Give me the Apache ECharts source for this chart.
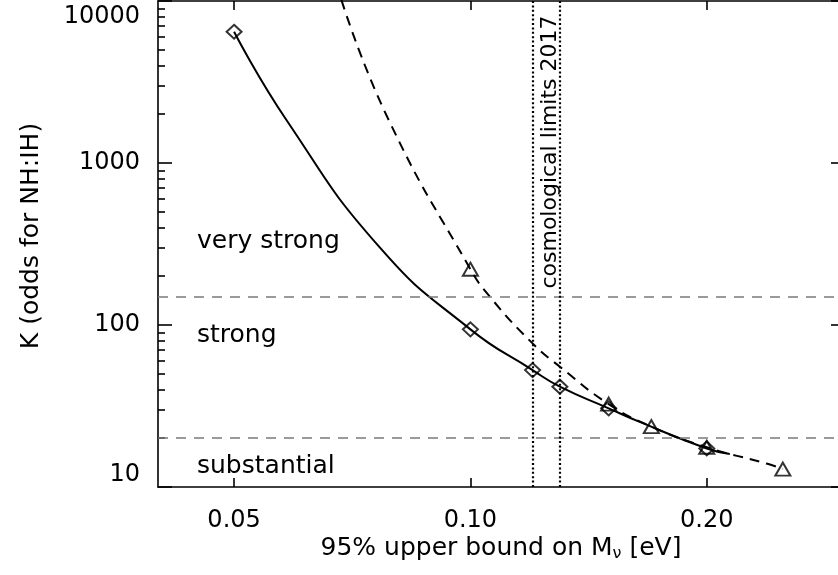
<!DOCTYPE html>
<html><head><meta charset="utf-8">
<script src="https://cdn.jsdelivr.net/npm/echarts@6/dist/echarts.min.js"></script>
<style>html,body{margin:0;padding:0;background:#fff}#c{width:838px;height:575px}</style>
</head><body><div id="c"></div><script>
// ---- data ----
const xTickValues = [0.05, 0.10, 0.20];
const xTickLabels = ['0.05', '0.10', '0.20'];
const yTickValues = [10, 100, 1000, 10000];
const yTickLabels = ['10', '100', '1000', '10000'];
const yMinorValues = [20,30,40,50,60,70,80,90,200,300,400,500,600,700,800,900,2000,3000,4000,5000,6000,7000,8000,9000];

// solid curve
const solidX = [0.05, 0.0583, 0.0767, 0.10, 0.12, 0.13, 0.15, 0.164, 0.20, 0.214];
const solidK = [6460, 1843, 300, 94, 52.7, 41.6, 30.6, 25.3, 17.3, 16.0];
// diamonds
const diamondX = [0.05, 0.10, 0.12, 0.13, 0.15, 0.20];
const diamondK = [6460, 94, 52.7, 41.6, 30.6, 17.3];
// dashed curve
const dashedX = [0.0685, 0.0785, 0.10, 0.1058, 0.12, 0.13, 0.15, 0.17, 0.20, 0.239, 0.25];
const dashedK = [10150, 1888, 221, 150, 77, 55.3, 32.5, 23.6, 17.6, 13.9, 12.9];
// triangles
const triangleX = [0.10, 0.15, 0.17, 0.20, 0.25];
const triangleK = [221, 32.5, 23.6, 17.6, 12.9];

const evidenceThresholds = [150, 20];
const cosmoLimits = [0.12, 0.13];
const regionNames = ['very strong', 'strong', 'substantial'];
const cosmoText = 'cosmological limits 2017';
const xTitle = '95% upper bound on M';
const yTitle = 'K (odds for NH:IH)';

// ---- chart ----
const FONT = '"DejaVu Sans", sans-serif';
const X0 = 0.04, X1 = 0.3, Y0 = 10, Y1 = 10000;
const L = Math.log10;
const pair = (xs, ys) => xs.map((x, i) => [x, ys[i]]);
const black = '#000';
const lblX = v => { const i = xTickValues.findIndex(t => Math.abs(L(t) - v) < 1e-6); return i >= 0 ? xTickLabels[i] : ''; };
const lblY = v => { const i = yTickValues.findIndex(t => Math.abs(L(t) - v) < 1e-6); return i >= 0 ? yTickLabels[i] : ''; };

const chart = echarts.init(document.getElementById('c'), null, {renderer: 'canvas'});
const lineAx = {show: true, onZero: false, lineStyle: {color: black, width: 1.6}};
const noLine = {show: false, onZero: false};

const option = {
  animation: false,
  backgroundColor: '#fff',
  grid: {left: 158, top: 1, width: 687, height: 486, containLabel: false, outerBoundsMode: 'none'},
  xAxis: [
    {type: 'log', min: X0, max: X1, position: 'bottom', axisLine: lineAx, axisTick: {show: false},
     axisLabel: {show: false}, splitLine: {show: false}, minorTick: {show: false}},
    {type: 'value', min: L(X0), max: L(X1), position: 'bottom', axisLine: noLine,
     axisTick: {show: true, inside: true, length: 9, customValues: xTickValues.map(L), lineStyle: {color: black, width: 1.6}},
     axisLabel: {show: true, customValues: xTickValues.map(L), formatter: lblX, margin: 22, fontSize: 24, color: black, fontFamily: FONT},
     splitLine: {show: false}},
    {type: 'value', min: L(X0), max: L(X1), position: 'top', axisLine: lineAx,
     axisTick: {show: true, inside: true, length: 9, customValues: xTickValues.map(L), lineStyle: {color: black, width: 1.6}},
     axisLabel: {show: false}, splitLine: {show: false}}
  ],
  yAxis: [
    {type: 'log', min: Y0, max: Y1, position: 'left', axisLine: lineAx, axisTick: {show: false},
     axisLabel: {show: false}, splitLine: {show: false}, minorTick: {show: false}},
    {type: 'value', min: L(Y0), max: L(Y1), position: 'left', axisLine: noLine,
     axisTick: {show: true, inside: true, length: 14, customValues: yTickValues.map(L), lineStyle: {color: black, width: 1.6}},
     axisLabel: {show: true, customValues: yTickValues.map(L), formatter: lblY, margin: 18, fontSize: 24, color: black, fontFamily: FONT,
                 padding: [4, 0, 0, 0], verticalAlignMinLabel: 'bottom', verticalAlignMaxLabel: 'top'},
     splitLine: {show: false}},
    {type: 'value', min: L(Y0), max: L(Y1), position: 'left', axisLine: noLine,
     axisTick: {show: true, inside: true, length: 7, customValues: yMinorValues.map(L), lineStyle: {color: black, width: 1.6}},
     axisLabel: {show: false}, splitLine: {show: false}},
    {type: 'log', min: Y0, max: Y1, position: 'right', axisLine: lineAx, axisTick: {show: false},
     axisLabel: {show: false}, splitLine: {show: false}},
    {type: 'value', min: L(Y0), max: L(Y1), position: 'right', axisLine: noLine,
     axisTick: {show: true, inside: true, length: 14, customValues: yTickValues.map(L), lineStyle: {color: black, width: 1.6}},
     axisLabel: {show: false}, splitLine: {show: false}},
    {type: 'value', min: L(Y0), max: L(Y1), position: 'right', axisLine: noLine,
     axisTick: {show: true, inside: true, length: 7, customValues: yMinorValues.map(L), lineStyle: {color: black, width: 1.6}},
     axisLabel: {show: false}, splitLine: {show: false}}
  ],
  series: [
    {type: 'line', name: 'refs', xAxisIndex: 0, yAxisIndex: 0, data: [], z: 1, silent: true,
     markLine: {silent: true, symbol: ['none', 'none'], label: {show: false}, animation: false,
       data: evidenceThresholds.map(v => ({yAxis: v, lineStyle: {color: '#7a7a7a', width: 1.7, type: [10, 8]}}))
         .concat(cosmoLimits.map(v => ({xAxis: v, lineStyle: {color: black, width: 2.2, type: [2, 2.4]}})))}},
    {type: 'line', name: 'solid', xAxisIndex: 0, yAxisIndex: 0, data: pair(solidX, solidK), z: 3,
     smooth: 0.5, showSymbol: false, symbol: 'none', lineStyle: {color: black, width: 2}},
    {type: 'line', name: 'dashed', xAxisIndex: 0, yAxisIndex: 0, data: pair(dashedX, dashedK), z: 3,
     smooth: 0.5, showSymbol: false, symbol: 'none', lineStyle: {color: black, width: 2, type: [10, 7]}},
    {type: 'scatter', name: 'diamonds', xAxisIndex: 0, yAxisIndex: 0, data: pair(diamondX, diamondK), z: 4,
     symbol: 'diamond', symbolSize: [15, 14], itemStyle: {color: 'rgba(255,255,255,0)', borderColor: black, borderWidth: 2}},
    {type: 'scatter', name: 'triangles', xAxisIndex: 0, yAxisIndex: 0, data: pair(triangleX, triangleK), z: 4,
     symbol: 'triangle', symbolSize: [15, 13], itemStyle: {color: 'rgba(255,255,255,0)', borderColor: black, borderWidth: 2}}
  ],
  graphic: [
    {type: 'text', x: 197, y: 241, style: {text: regionNames[0], font: '25px ' + FONT, fill: black, align: 'left', verticalAlign: 'middle'}},
    {type: 'text', x: 197, y: 335, style: {text: regionNames[1], font: '25px ' + FONT, fill: black, align: 'left', verticalAlign: 'middle'}},
    {type: 'text', x: 197, y: 466, style: {text: regionNames[2], font: '25px ' + FONT, fill: black, align: 'left', verticalAlign: 'middle'}},
    {type: 'text', x: 550, y: 152, rotation: Math.PI / 2, style: {text: cosmoText, font: '22px ' + FONT, fill: black, align: 'center', verticalAlign: 'middle'}},
    {type: 'text', x: 31, y: 236, rotation: Math.PI / 2, style: {text: yTitle, font: '25px ' + FONT, fill: black, align: 'center', verticalAlign: 'middle'}},
    {type: 'text', x: 501, y: 548, style: {text: xTitle + '{sub|ν} [eV]', font: '25px ' + FONT, fill: black, align: 'center', verticalAlign: 'middle',
      rich: {sub: {font: '16px ' + FONT, fill: black, padding: [11, 0, 0, 0], verticalAlign: 'bottom'}}}}
  ]
};
chart.setOption(option);
</script></body></html>
